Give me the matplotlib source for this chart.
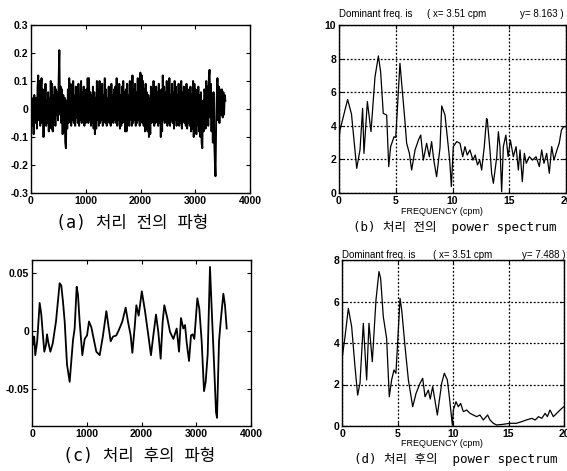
import numpy as np
import matplotlib
matplotlib.use("Agg")
import matplotlib.pyplot as plt

plt.rcParams['font.family'] = ['Liberation Sans', 'DejaVu Sans']

# (a) raw waveform: alternating peaks / troughs
raw_vals = [
    0.00, 0.04, -0.06, 0.03, -0.09, 0.05, -0.05, 0.02,
    0.04, -0.07, 0.08, 0.12, -0.04, 0.10, -0.06, 0.06,
    0.11, -0.05, 0.07, -0.10, 0.05, -0.03, 0.09, -0.06,
    0.03, -0.05, 0.06, -0.08, 0.04, -0.04, 0.10, -0.07,
    0.09, -0.08, 0.05, -0.03, 0.08, -0.06, 0.07, -0.02,
    0.06, -0.04, 0.10, 0.21, -0.02, 0.08, -0.05, 0.07,
    -0.09, 0.05, -0.08, 0.04, -0.12, -0.14, 0.03, -0.07,
    0.07, -0.05, 0.11, -0.03, 0.09, -0.06, 0.06, -0.04,
    0.10, -0.05, 0.05, -0.06, 0.08, -0.03, 0.07, -0.05,
    0.09, -0.06, 0.04, -0.04, 0.10, -0.05, 0.06, -0.03,
    0.08, -0.06, 0.05, -0.05, 0.07, -0.04, 0.11, -0.05,
    0.11, -0.04, 0.06, -0.06, 0.05, -0.05, 0.08, -0.07,
    0.06, -0.09, 0.04, -0.07, 0.10, -0.04, 0.07, -0.06,
    0.10, -0.05, 0.06, -0.04, 0.09, -0.06, 0.05, -0.03,
    0.11, -0.05, 0.07, -0.06, 0.04, -0.04, 0.08, -0.05,
    0.06, -0.06, 0.09, -0.03, 0.05, -0.05, 0.07, -0.04,
    0.08, -0.05, 0.11, -0.06, 0.06, -0.04, 0.09, -0.07,
    0.05, -0.06, 0.08, -0.05, 0.10, -0.04, 0.06, -0.08,
    0.07, -0.08, 0.09, -0.05, 0.05, -0.06, 0.10, -0.04,
    0.08, -0.06, 0.12, -0.05, 0.07, -0.04, 0.09, -0.06,
    0.06, -0.05, 0.11, -0.04, 0.08, -0.06, 0.13, -0.03,
    0.12, -0.05, 0.10, -0.06, 0.07, -0.08, 0.09, -0.07,
    0.06, -0.08, 0.05, -0.10, 0.04, -0.09, 0.08, -0.05,
    0.07, -0.04, 0.10, -0.06, 0.05, -0.05, 0.08, -0.04,
    0.06, -0.06, 0.09, -0.05, 0.04, -0.10, 0.07, -0.08,
    0.12, -0.04, 0.08, -0.05, 0.06, -0.03, 0.10, -0.06,
    0.07, -0.05, 0.11, -0.06, 0.05, -0.04, 0.09, -0.05,
    0.06, -0.07, 0.10, -0.04, 0.08, -0.06, 0.05, -0.05,
    0.09, -0.06, 0.07, -0.05, 0.10, -0.07, 0.06, -0.04,
    0.08, -0.05, 0.05, -0.06, 0.09, -0.07, 0.07, -0.05,
    0.06, -0.06, 0.08, -0.08, 0.05, -0.07, 0.10, -0.10,
    0.09, -0.05, 0.07, -0.09, 0.04, -0.06, 0.08, -0.08,
    0.05, -0.10, 0.06, -0.12, -0.14, 0.03, -0.08, 0.07,
    0.06, -0.07, 0.10, -0.05, 0.08, -0.06, 0.11, 0.14,
    -0.03, 0.09, -0.08, 0.05, -0.12, 0.06, -0.10, -0.18,
    -0.24, -0.05, 0.04, 0.11, -0.04, 0.08, -0.05, 0.07,
    0.03, -0.02, 0.07, -0.03, 0.06, -0.02, 0.05, 0.03,
]
raw_end = 3550

# (c) filtered waveform
filt_x = [0, 18, 40, 60, 95, 140, 170, 195, 225, 256, 274, 298, 335, 378, 438,
          505, 535, 566, 597, 639, 688, 718, 749, 779, 816, 840, 870, 919, 962,
          1005, 1041, 1084, 1114, 1175, 1236, 1297, 1358, 1400, 1437, 1480, 1540,
          1589, 1650, 1711, 1753, 1802, 1833, 1875, 1906, 1948, 2006, 2064, 2125,
          2173, 2216, 2265, 2307, 2350, 2387, 2417, 2471, 2521, 2582, 2643, 2685,
          2721, 2764, 2795, 2825, 2868, 2904, 2935, 2965, 3020, 3056, 3099, 3142,
          3172, 3209, 3251, 3281, 3324, 3361, 3379, 3416, 3446, 3495, 3525, 3556]
filt_y = [-0.002, -0.012, -0.005, -0.021, -0.009, 0.024, 0.014, -0.001, -0.018,
          -0.012, -0.003, -0.010, -0.018, -0.011, 0.008, 0.041, 0.039, 0.025,
          0.008, -0.029, -0.044, -0.026, -0.008, 0.002, 0.038, 0.031, 0.008,
          -0.021, -0.007, -0.004, 0.008, 0.003, -0.004, -0.018, -0.021, -0.004,
          0.017, 0.003, -0.009, -0.005, -0.004, 0.001, 0.008, 0.020, 0.008,
          -0.004, -0.019, 0.003, 0.022, 0.013, 0.034, 0.017, -0.004, -0.021,
          -0.004, 0.014, -0.001, -0.024, 0.008, 0.022, 0.011, -0.001, -0.007,
          0.002, -0.018, 0.011, 0.002, 0.005, -0.010, -0.026, -0.004, -0.003,
          -0.007, 0.028, 0.019, -0.009, -0.052, -0.044, -0.020, 0.055, 0.020,
          -0.027, -0.070, -0.075, -0.009, 0.008, 0.032, 0.022, 0.002]

# (b) power spectrum before processing
spec_b_f = [0.0, 0.09, 0.76, 1.1, 1.56, 1.85, 2.08, 2.2, 2.5, 2.65, 2.82, 3.17,
            3.47, 3.67, 3.9, 4.2, 4.38, 4.55, 4.85, 5.0, 5.37, 5.5, 5.8, 5.96,
            6.2, 6.4, 6.7, 7.0, 7.2, 7.43, 7.72, 7.96, 8.16, 8.35, 8.6, 8.9,
            9.05, 9.34, 9.63, 9.75, 9.9, 10.07, 10.37, 10.66, 10.9, 11.1, 11.3,
            11.54, 11.8, 12.0, 12.2, 12.4, 12.57, 12.8, 13.0, 13.07, 13.3, 13.45,
            13.6, 13.9, 14.04, 14.18, 14.33, 14.48, 14.7, 14.9, 15.1, 15.36, 15.6,
            15.8, 15.95, 16.15, 16.33, 16.5, 16.77, 17.06, 17.36, 17.65, 17.86,
            18.06, 18.3, 18.53, 18.74, 18.94, 19.2, 19.4, 19.6, 19.8, 20.0]
spec_b_p = [3.2, 3.75, 5.57, 4.7, 1.47, 2.56, 5.04, 2.36, 5.44, 4.6, 3.65, 6.9,
            8.16, 7.2, 4.74, 4.64, 1.57, 2.76, 3.35, 3.3, 7.72, 6.7, 4.35, 2.96,
            2.36, 1.37, 2.56, 3.15, 3.45, 1.96, 2.96, 2.16, 3.06, 1.96, 0.97, 2.7,
            5.18, 4.64, 2.76, 1.96, 0.38, 2.76, 3.06, 2.96, 2.16, 2.76, 2.26,
            2.56, 1.96, 2.26, 1.67, 1.96, 1.37, 2.76, 4.44, 4.35, 2.56, 1.17,
            0.58, 2.16, 3.65, 2.76, 0.08, 2.76, 3.45, 2.16, 3.15, 2.16, 2.76,
            1.37, 2.56, 0.67, 2.36, 1.77, 2.16, 1.96, 2.16, 1.57, 2.56,
            1.77, 2.36, 1.17, 2.76, 1.96, 2.56, 2.96, 3.75, 3.95, 3.95]

# (d) power spectrum after processing
spec_d_f = [0.03, 0.27, 0.57, 0.87, 1.17, 1.41, 1.62, 1.92, 2.22, 2.43, 2.73,
            3.06, 3.33, 3.48, 3.72, 4.02, 4.26, 4.47, 4.68, 4.86, 5.23, 5.38,
            5.68, 5.98, 6.37, 6.67, 7.03, 7.27, 7.48, 7.78, 7.95, 8.17, 8.59,
            8.98, 9.22, 9.49, 9.67, 9.94, 10.03, 10.27, 10.48, 10.69, 10.93,
            11.23, 11.53, 11.83, 12.13, 12.43, 12.73, 13.12, 13.33, 13.63, 13.93,
            14.5, 15.1, 15.7, 16.2, 16.6, 17.1, 17.4, 17.7, 18.0, 18.3, 18.5,
            18.74, 19.04, 19.34, 19.8, 20.0]
spec_d_p = [3.34, 4.3, 5.67, 4.79, 2.86, 1.49, 2.06, 4.95, 2.22, 4.95, 3.1,
            6.07, 7.44, 7.12, 5.27, 4.22, 1.41, 2.22, 2.7, 2.54, 6.15, 5.59,
            3.82, 2.22, 0.93, 1.57, 2.06, 2.3, 1.41, 1.73, 1.3, 1.9, 0.53,
            2.06, 2.54, 2.22, 1.41, 0.05, 0.77, 1.17, 0.93, 1.09, 0.69,
            0.77, 0.61, 0.53, 0.45, 0.53, 0.29, 0.53, 0.29, 0.13, 0.05,
            0.08, 0.13, 0.13, 0.21, 0.29, 0.37, 0.29, 0.45, 0.37, 0.61, 0.45,
            0.77, 0.45, 0.61, 0.85, 0.93]

W, H = 567, 471
fig = plt.figure(figsize=(W / 100, H / 100), dpi=100)


def box(px_left, px_top, px_right, px_bottom):
    return fig.add_axes([px_left / W, 1 - px_bottom / H,
                         (px_right - px_left) / W, (px_bottom - px_top) / H])


def style(ax):
    ax.tick_params(direction='in', length=3, width=0.8, top=True, right=True,
                   labelsize=7.5, pad=2)
    for lab in ax.get_xticklabels() + ax.get_yticklabels():
        lab.set_fontweight('bold')
    for s in ax.spines.values():
        s.set_linewidth(1.0)


def ftext(px, py, s, **kw):
    fig.text(px / W, 1 - py / H, s, va='center', **kw)


ax_a = box(31, 25, 250, 193)
ax_b = box(339, 25, 566, 193)
ax_c = box(32, 260, 251, 426)
ax_d = box(342, 260, 564, 426)

t_raw = np.linspace(0, raw_end, len(raw_vals))
ax_a.plot(t_raw, raw_vals, color='black', lw=1.4)
ax_a.set_xlim(0, 4000)
ax_a.set_ylim(-0.3, 0.3)
ax_a.set_xticks([0, 1000, 2000, 3000, 4000])
ax_a.set_yticks([-0.3, -0.2, -0.1, 0, 0.1, 0.2, 0.3])
ax_a.set_yticklabels(['-0.3', '-0.2', '-0.1', '0', '0.1', '0.2', '0.3'])
style(ax_a)

ax_c.plot(filt_x, filt_y, color='black', lw=1.3)
ax_c.set_xlim(0, 4000)
ax_c.set_ylim(-0.082, 0.061)
ax_c.set_xticks([0, 1000, 2000, 3000, 4000])
ax_c.set_yticks([-0.05, 0, 0.05])
ax_c.set_yticklabels(['-0.05', '0', '0.05'])
style(ax_c)

for ax, f, p, ytop in [(ax_b, spec_b_f, spec_b_p, 10), (ax_d, spec_d_f, spec_d_p, 8)]:
    ax.plot(f, p, color='black', lw=0.9)
    ax.set_xlim(0, 20)
    ax.set_ylim(0, ytop)
    ax.set_xticks([0, 5, 10, 15, 20])
    ax.set_yticks(range(0, ytop + 1, 2))
    ax.grid(True, color='black', linestyle=(0, (1.5, 1.5)), lw=0.9)
    style(ax)

# spectrum headers
ftext(339, 14, 'Dominant freq. is', fontsize=7)
ftext(427, 14, '( x= 3.51 cpm', fontsize=7)
ftext(520, 14, 'y= 8.163 )', fontsize=7)
ftext(342, 255, 'Dominant freq. is', fontsize=7)
ftext(433, 255, '( x= 3.51 cpm', fontsize=7)
ftext(522, 255, 'y= 7.488 )', fontsize=7)

ftext(442, 212, 'FREQUENCY (cpm)', fontsize=6.5, ha='center')
ftext(442, 444, 'FREQUENCY (cpm)', fontsize=6.5, ha='center')

cap = ['DejaVu Sans Mono', 'Noto Sans CJK KR']
ftext(132, 223, '(a) 처리 전의 파형', fontsize=12, ha='center', family=cap)
ftext(455, 228, '(b) 처리 전의  power spectrum', fontsize=9, ha='center', family=cap)
ftext(139, 456, '(c) 처리 후의 파형', fontsize=12, ha='center', family=cap)
ftext(456, 460, '(d) 처리 후의  power spectrum', fontsize=9, ha='center', family=cap)

fig.savefig('out.png', dpi=100)
